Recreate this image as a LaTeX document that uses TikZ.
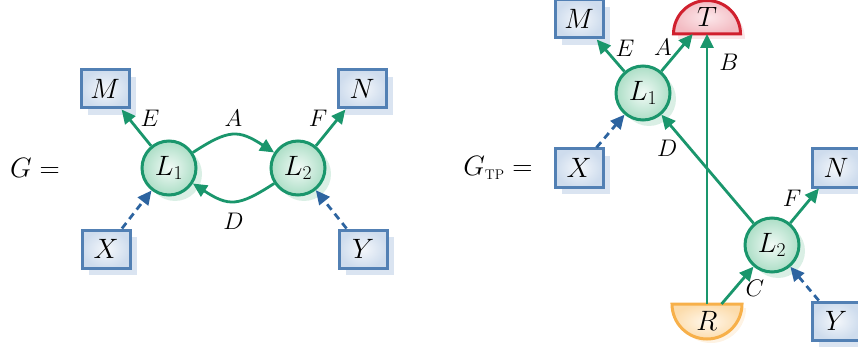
\RequirePackage{fix-cm}
\documentclass[tikz,border=0pt]{standalone}
\usetikzlibrary{arrows.meta,shadows}
\definecolor{grn}{RGB}{26,150,108}
\definecolor{grnin}{RGB}{242,250,246}
\definecolor{grnout}{RGB}{172,222,198}
\definecolor{grnsh}{RGB}{218,239,229}
\definecolor{bluebd}{RGB}{82,128,180}
\definecolor{boxin}{RGB}{244,247,251}
\definecolor{boxout}{RGB}{206,220,237}
\definecolor{boxsh}{RGB}{218,228,241}
\definecolor{dblue}{RGB}{45,100,160}
\definecolor{tred}{RGB}{208,32,46}
\definecolor{tin}{RGB}{252,232,235}
\definecolor{tout}{RGB}{243,188,195}
\definecolor{tsh}{RGB}{250,230,232}
\definecolor{rorg}{RGB}{247,176,74}
\definecolor{rin}{RGB}{255,247,235}
\definecolor{rout}{RGB}{252,220,172}
\definecolor{rsh}{RGB}{254,243,228}
\begin{document}
\begin{tikzpicture}[x=1pt,y=1pt,
  big/.style={font=\fontsize{28}{32}\selectfont},
  lab/.style={font=\fontsize{24}{28}\selectfont, inner sep=0pt},
  lnode/.style={circle, draw=grn, line width=3pt, minimum size=54pt, inner sep=0pt,
    inner color=grnin, outer color=grnout,
    drop shadow={shadow xshift=6pt, shadow yshift=-6pt, fill=grnsh, opacity=1}, big},
  obox/.style={rectangle, draw=bluebd, line width=3pt, minimum width=48pt, minimum height=38pt, inner sep=0pt,
    inner color=boxin, outer color=boxout,
    drop shadow={shadow xshift=7pt, shadow yshift=-7pt, fill=boxsh, opacity=1}, big},
  arr/.style={draw=grn, line width=2.8pt, -{Triangle[length=14pt,width=13pt]}},
  darr/.style={draw=dblue, line width=2.8pt, dash pattern=on 7pt off 5pt, -{Triangle[length=14pt,width=13pt]}},
  halfnode/.style={rectangle, minimum width=70pt, minimum height=34pt, inner sep=0pt, outer sep=0pt, big}
]
\useasboundingbox (0,0) rectangle (858,351);

% ---------- left graph ----------
\node[big] (G1) at (35,183) {$G=$};
\node[lnode] (L1a) at (169,183) {$L_1$};
\node[lnode] (L2a) at (298,183) {$L_2$};
\node[obox] (M1) at (105,262) {$M$};
\node[obox] (N1) at (362,262) {$N$};
\node[obox] (X1) at (106,102) {$X$};
\node[obox] (Y1) at (363,102) {$Y$};

\draw[arr] (L1a) -- node[lab, xshift=13.6pt, yshift=9.7pt] (lE1) {$E$} (M1);
\draw[arr] (L2a) -- node[lab, xshift=-12.6pt, yshift=9.7pt] (lF1) {$F$} (N1);
\draw[arr] (L1a) to[bend left=33, looseness=1.35] node[lab, yshift=17pt] (lA1) {$A$} (L2a);
\draw[arr] (L2a) to[bend left=33, looseness=1.35] node[lab, yshift=-20pt] (lD1) {$D$} (L1a);
\draw[darr] (X1) -- (L1a);
\draw[darr] (Y1) -- (L2a);

% ---------- right graph ----------
\node[big] (G2) at (498,183) {$G_{\mathrm{\scriptscriptstyle TP}}=$};

% half discs
\fill[tsh] (678,312) arc[start angle=180, end angle=0, radius=33.5] -- cycle;
\path[draw=tred, line width=3pt, shading=radial, inner color=tin, outer color=tout]
  (673.5,317) arc[start angle=180, end angle=0, radius=33.5] -- cycle;
\fill[rsh] (676,43) arc[start angle=180, end angle=360, radius=35] -- cycle;
\path[draw=rorg, line width=3pt, shading=radial, inner color=rin, outer color=rout]
  (672,47) arc[start angle=180, end angle=360, radius=35] -- cycle;

\node[halfnode] (T) at (707,334) {$T$};
\node[halfnode] (R) at (707,30) {$R$};
\node[lnode] (L1b) at (643,258) {$L_1$};
\node[lnode] (L2b) at (772,106) {$L_2$};
\node[obox] (M2) at (579,332) {$M$};
\node[obox] (X2) at (579,183) {$X$};
\node[obox] (N2) at (836,183) {$N$};
\node[obox] (Y2) at (836,30) {$Y$};

\draw[arr] (L1b) -- node[lab, xshift=14.5pt, yshift=7.5pt] (lE2) {$E$} (M2);
\draw[arr] (L1b) -- node[lab, xshift=-14pt, yshift=5.6pt] (lA2) {$A$} (T);
\draw[arr] (R) -- node[lab, pos=0.9, xshift=22pt, yshift=-1pt] (lB2) {$B$} (T);
\draw[arr] (L2b) -- node[lab, pos=0.75, xshift=-17.4pt, yshift=-6.2pt] (lD2) {$D$} (L1b);
\draw[arr] (L2b) -- node[lab, xshift=-12.6pt, yshift=7.8pt] (lF2) {$F$} (N2);
\draw[arr] (R) -- node[lab, xshift=17.3pt, yshift=-2.6pt] (lC2) {$C$} (L2b);
\draw[darr] (X2) -- (L1b);
\draw[darr] (Y2) -- (L2b);
\end{tikzpicture}
\end{document}
